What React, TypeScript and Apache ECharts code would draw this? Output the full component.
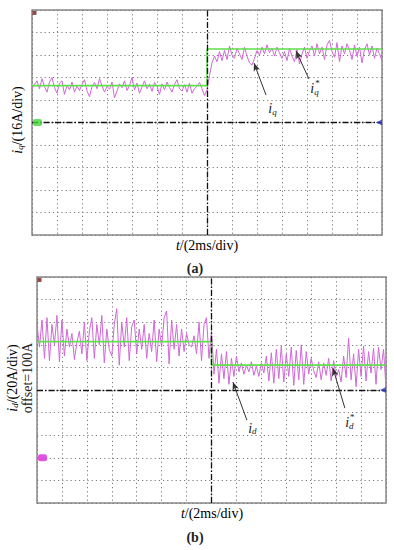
import React, { useEffect, useRef } from "react";
import * as echarts from "echarts";

// ---- data (units: divisions) ----
const STEP = 0.1; // div per sample
const iqMeasured = [
  1.5, 1.7, 1.85, 1.5, 1.95, 1.6, 1.35, 1.8, 2.0, 1.55,
  1.3, 1.75, 1.85, 1.25, 1.65, 1.45, 1.8, 1.35, 1.62, 1.42,
  1.7, 1.9, 1.4, 1.15, 1.6, 1.78, 1.5, 1.95, 1.62, 1.35,
  1.6, 1.48, 1.8, 1.1, 1.4, 1.72, 1.55, 1.85, 1.42, 1.65,
  2.0, 1.45, 1.75, 1.3, 1.58, 1.85, 1.5, 1.7, 1.38, 1.78,
  1.62, 1.25, 1.72, 1.45, 1.8, 1.55, 1.35, 1.7, 1.9, 1.5,
  1.4, 1.68, 1.35, 1.75, 1.3, 1.5, 1.62, 1.78, 1.5, 1.2, 1.45,
  2.1, 2.65, 2.95, 2.7, 3.15, 2.75, 3.2, 2.8, 3.4, 3.0,
  2.85, 3.3, 3.05, 2.8, 3.35, 2.95, 2.65, 2.55, 2.85, 3.2,
  3.0, 3.35, 3.05, 3.45, 3.1, 3.3, 2.95, 3.35, 3.1, 2.85,
  3.15, 2.75, 3.3, 2.95, 2.7, 3.25, 2.6, 3.05, 3.35, 2.85,
  3.2, 3.4, 2.95, 3.5, 3.05, 3.35, 2.8, 3.45, 3.65, 3.15,
  2.9, 3.55, 2.7, 3.4, 3.05, 3.5, 3.2, 2.8, 3.45, 2.95,
  3.35, 2.65, 3.25, 3.5, 3.0, 3.4, 2.85, 3.3, 3.05, 2.75,
];
const iqRefBefore = 1.64;
const iqRefAfter = 3.27;

const idMeasured = [
  2.9, 1.9, 3.1, 1.4, 3.2, 1.3, 2.9, 2.0, 3.3, 1.25,
  3.1, 1.5, 2.7, 1.9, 2.5, 1.35, 2.1, 2.6, 1.6, 3.0,
  1.3, 2.6, 3.2, 1.4, 2.9, 2.0, 3.3, 1.2, 2.7, 1.8,
  1.5, 2.9, 3.6, 1.1, 3.0, 1.9, 3.2, 1.3, 2.8, 3.1,
  1.6, 2.7, 1.8, 2.9, 1.4, 2.5, 1.7, 3.1, 1.25, 2.7,
  1.9, 3.2, 3.5, 1.15, 3.1, 1.8, 2.9, 1.5, 2.7, 1.7,
  2.5, 2.0, 1.9, 2.4, 1.6, 3.0, 1.3, 2.9, 3.2, 1.4, 2.6,
  0.7, 1.8, 0.3, 1.6, 0.5, 1.7, 0.25, 1.4, 0.6, 1.5,
  0.8, 1.2, 0.7, 1.1, 0.8, 1.25, 0.65, 1.05, 0.6, 1.2,
  0.75, 1.5, 0.4, 1.65, 0.3, 1.8, 0.5, 1.95, 0.35, 1.6,
  0.6, 1.9, 0.2, 1.75, 0.45, 2.0, 0.25, 1.7, 0.7, 1.4,
  0.85, 0.55, 1.25, 0.45, 1.2, 0.65, 1.4, 0.4, 1.3, 0.6,
  0.9, 0.35, 1.5, 0.55, 2.3, 0.45, 1.6, 0.15, 1.8, 0.6,
  1.95, 0.4, 1.7, 0.75, 1.85, 0.25, 1.9, 0.9, 1.8, 0.1,
];
const idRefBefore = 2.14;
const idRefAfter = 1.1;

const STEP_TIME = 7; // div
const X_MAX = 14;
const Y_MIN = -5;
const Y_MAX = 5;

// annotation arrows [tailX, tailY, headX, headY] and labels [x, y]
const arrowsA = [
  [9.36, 1.22, 8.88, 2.64],
  [11.08, 1.93, 10.56, 3.18],
];
const labelsA = [
  { x: 9.62, y: 0.62, sub: "q", star: false },
  { x: 11.3, y: 1.5, sub: "q", star: true },
];
const arrowsB = [
  [8.42, -1.33, 7.86, 0.35],
  [12.35, -0.8, 11.87, 0.97],
];
const labelsB = [
  { x: 8.64, y: -1.7, sub: "d", star: false },
  { x: 12.53, y: -1.45, sub: "d", star: true },
];

const MAGENTA = "#d068d6";
const GREEN = "#5fe04c";
const GRIDC = "#7a7a7a";

export default function App() {
  const ref = useRef<HTMLDivElement>(null);
  useEffect(() => {
    if (!ref.current) return;
    const chart = echarts.init(ref.current, undefined, { renderer: "svg" });

    const toXY = (arr: number[]) => arr.map((v, i) => [+(i * STEP).toFixed(2), v]);
    const stepLine = (a: number, b: number) => [
      [0, a],
      [STEP_TIME, a],
      [STEP_TIME, b],
      [X_MAX, b],
    ];
    const serifFont = "'Liberation Serif', 'DejaVu Serif', serif";
    const rich = {
      i: { fontFamily: serifFont, fontStyle: "italic", fontSize: 14, color: "#222" },
      s: { fontFamily: serifFont, fontStyle: "italic", fontSize: 9, color: "#222", verticalAlign: "bottom", padding: [6, 0, 0, 0] },
      n: { fontFamily: serifFont, fontSize: 14, color: "#222" },
    };

    const xAxis = (gi: number) => ({
      type: "value",
      gridIndex: gi,
      min: 0,
      max: X_MAX,
      interval: 1,
      axisLine: { show: false },
      axisTick: { show: false },
      axisLabel: { show: false },
      splitLine: { show: true, lineStyle: { color: GRIDC, type: [1.2, 3], width: 1 } },
    });
    const yAxis = (gi: number) => ({
      type: "value",
      gridIndex: gi,
      min: Y_MIN,
      max: Y_MAX,
      interval: 1,
      axisLine: { show: false },
      axisTick: { show: false },
      axisLabel: { show: false },
      splitLine: { show: true, lineStyle: { color: GRIDC, type: [1.2, 3], width: 1 } },
    });

    const annot = (arrows: number[][], labels: any[]) => ({
      markLine: {
        silent: true,
        symbol: ["none", "none"],
        label: { show: false },
        lineStyle: { color: "#111", type: [6, 2, 1.5, 2], width: 1.3 },
        data: [
          { xAxis: STEP_TIME },
          { yAxis: 0 },
          ...arrows.map((a) => [
            { coord: [a[0], a[1]], symbol: "none", lineStyle: { color: "#333", type: "solid", width: 1 } },
            { coord: [a[2], a[3]], symbol: "arrow", symbolSize: [5, 8] },
          ]),
        ],
      },
      markPoint: {
        silent: true,
        symbol: "circle",
        symbolSize: 1,
        itemStyle: { color: "rgba(0,0,0,0)" },
        data: labels.flatMap((l) => {
          const items: any[] = [
            {
              coord: [l.x, l.y],
              label: { show: true, position: "inside", formatter: `{i|i}{s|${l.sub}}`, rich },
            },
          ];
          if (l.star) {
            items.push({
              coord: [l.x, l.y],
              label: {
                show: true,
                position: "inside",
                offset: [3, -6],
                formatter: "*",
                fontSize: 9,
                color: "#222",
                fontFamily: serifFont,
              },
            });
          }
          return items;
        }),
      },
    });

    const markers = (gi: number, chColor: string, chY: number) => ({
      type: "scatter",
      xAxisIndex: gi,
      yAxisIndex: gi,
      silent: true,
      z: 5,
      data: [
        { value: [0.22, chY], symbol: "roundRect", symbolSize: [9, 7], itemStyle: { color: chColor } },
        { value: [13.88, 0], symbol: "triangle", symbolSize: [6, 6], symbolRotate: 90, itemStyle: { color: "#2a3fc8" } },
        { value: [0.1, 4.87], symbol: "rect", symbolSize: [4, 4], itemStyle: { color: "#7a1a1a" } },
      ],
    });

    const option: any = {
      animation: false,
      backgroundColor: "#fff",
      grid: [
        { left: 32, top: 10, width: 350, height: 225, show: true, borderColor: "#888", borderWidth: 1.5, backgroundColor: "transparent" },
        { left: 37, top: 277, width: 349, height: 226, show: true, borderColor: "#888", borderWidth: 1.5, backgroundColor: "transparent" },
      ],
      xAxis: [xAxis(0), xAxis(1)],
      yAxis: [yAxis(0), yAxis(1)],
      series: [
        {
          type: "line",
          xAxisIndex: 0,
          yAxisIndex: 0,
          data: toXY(iqMeasured),
          symbol: "none",
          lineStyle: { color: MAGENTA, width: 1 },
          z: 2,
          ...annot(arrowsA, labelsA),
        },
        {
          type: "line",
          xAxisIndex: 0,
          yAxisIndex: 0,
          data: stepLine(iqRefBefore, iqRefAfter),
          symbol: "none",
          lineStyle: { color: GREEN, width: 1.6 },
          z: 3,
        },
        markers(0, "#3fd83a", 0),
        {
          type: "line",
          xAxisIndex: 1,
          yAxisIndex: 1,
          data: toXY(idMeasured),
          symbol: "none",
          lineStyle: { color: MAGENTA, width: 1 },
          z: 2,
          ...annot(arrowsB, labelsB),
        },
        {
          type: "line",
          xAxisIndex: 1,
          yAxisIndex: 1,
          data: stepLine(idRefBefore, idRefAfter),
          symbol: "none",
          lineStyle: { color: GREEN, width: 1.6 },
          z: 3,
        },
        markers(1, "#d82ad8", -3),
      ],
      graphic: [
        {
          type: "text",
          x: 17,
          y: 120,
          rotation: Math.PI / 2,
          style: { text: "{i|i}{s|q}{n|/(16A/div)}", rich, align: "center", verticalAlign: "middle" },
        },
        {
          type: "text",
          x: 207,
          y: 245,
          style: { text: "{i|t}{n|/(2ms/div)}", rich, align: "center", verticalAlign: "middle" },
        },
        {
          type: "text",
          x: 195,
          y: 268,
          style: { text: "(a)", font: `bold 14px ${serifFont}`, fill: "#222", align: "center", verticalAlign: "middle" },
        },
        {
          type: "text",
          x: 12,
          y: 378,
          rotation: Math.PI / 2,
          style: { text: "{i|i}{s|d}{n|/(20A/div)}", rich, align: "center", verticalAlign: "middle" },
        },
        {
          type: "text",
          x: 27,
          y: 378,
          rotation: Math.PI / 2,
          style: { text: "offset=100A", font: `14px ${serifFont}`, fill: "#222", align: "center", verticalAlign: "middle" },
        },
        {
          type: "text",
          x: 212,
          y: 513,
          style: { text: "{i|t}{n|/(2ms/div)}", rich, align: "center", verticalAlign: "middle" },
        },
        {
          type: "text",
          x: 195,
          y: 537,
          style: { text: "(b)", font: `bold 14px ${serifFont}`, fill: "#222", align: "center", verticalAlign: "middle" },
        },
      ],
    };
    chart.setOption(option);
    return () => chart.dispose();
  }, []);
  return <div ref={ref} style={{ position: "absolute", left: 0, top: 0, width: 394, height: 550 }} />;
}
